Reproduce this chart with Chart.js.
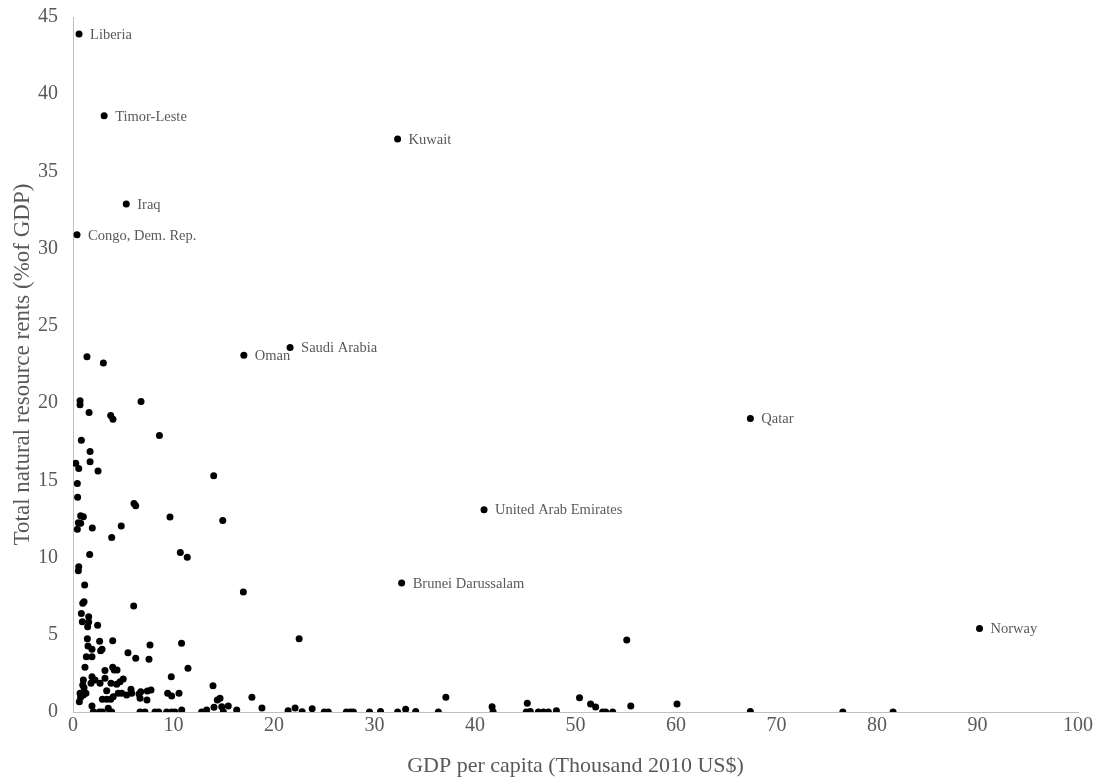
<!DOCTYPE html>
<html>
<head>
<meta charset="utf-8">
<script src="https://cdn.jsdelivr.net/npm/chart.js@4/dist/chart.umd.min.js"></script>
<style>
html,body{margin:0;padding:0;background:#fff;}
#wrap{width:1100px;height:779px;}
</style>
</head>
<body>
<div id="wrap"><canvas id="c" width="1100" height="779"></canvas></div>
<script>
// Labelled countries
const labelNames = ["Liberia","Timor-Leste","Kuwait","Iraq","Congo, Dem. Rep.","Saudi Arabia","Oman","Qatar","United Arab Emirates","Brunei Darussalam","Norway"];
const labelGdp   = [0.6, 3.1, 32.3, 5.3, 0.4, 21.6, 17.0, 67.4, 40.9, 32.7, 90.2];
const labelRents = [43.9, 38.6, 37.1, 32.9, 30.9, 23.6, 23.1, 19.0, 13.1, 8.35, 5.4];

// Other countries
const otherGdp = [1.39,3.02,0.7,0.7,1.6,6.77,3.75,3.98,8.6,0.83,1.7,1.7,0.27,0.57,2.49,14.0,0.43,0.46,6.07,6.24,
0.76,1.03,0.53,0.76,0.43,1.92,4.8,9.65,14.9,3.85,1.66,10.68,11.37,0.57,0.53,1.16,0.97,1.1,6.04,0.83,
1.56,0.93,1.56,1.46,2.45,1.43,2.65,3.95,1.49,1.89,7.66,10.8,2.75,2.89,1.33,1.89,5.47,6.24,7.56,1.19,
3.95,4.1,4.38,3.18,11.44,1.03,0.97,1.1,1.89,2.19,1.79,2.69,3.18,3.78,4.35,4.68,5.0,9.78,13.93,0.7,
0.76,0.63,1.03,1.29,3.35,2.92,3.35,3.75,4.0,4.5,4.85,5.34,5.77,5.84,6.57,6.67,6.74,7.4,7.76,7.36,
9.42,9.82,10.55,1.89,2.02,2.62,2.92,3.51,3.68,3.85,6.67,7.16,8.16,8.53,9.32,9.82,10.15,10.82,12.8,13.3,
14.03,14.36,14.63,14.8,14.96,15.45,16.29,16.95,22.5,17.8,18.8,21.4,22.1,22.8,23.8,25.0,25.4,27.2,27.6,27.9,
29.5,30.6,32.3,33.1,34.1,36.35,37.1,41.7,41.8,45.2,45.1,45.5,46.3,46.8,47.3,48.1,50.4,51.5,52.0,52.7,
53.0,53.7,55.1,55.5,60.1,67.4,76.6,81.6];
const otherRents = [23.0,22.6,20.15,19.9,19.4,20.1,19.2,18.95,17.9,17.6,16.86,16.2,16.1,15.76,15.6,15.3,14.8,13.9,13.5,13.36,
12.7,12.65,12.26,12.22,11.83,11.92,12.05,12.63,12.4,11.3,10.2,10.32,10.02,9.41,9.15,8.22,7.04,7.14,6.87,6.37,
6.17,5.85,5.83,5.52,5.61,4.75,4.58,4.62,4.27,4.06,4.34,4.45,3.97,4.06,3.58,3.58,3.84,3.48,3.41,2.9,
2.9,2.72,2.72,2.68,2.83,2.07,1.75,1.57,2.29,2.07,1.86,1.86,2.18,1.86,1.79,1.96,2.14,2.29,1.7,1.21,
0.95,0.67,1.1,1.21,1.38,0.82,0.82,0.82,0.99,1.21,1.21,1.1,1.47,1.21,1.17,0.89,1.31,1.36,1.42,0.78,
1.21,1.04,1.21,0.39,0.02,0,0,0.24,0,0,0,0,0,0,0,0,0,0.13,0,0.13,
0.3,0.78,0.89,0.34,0,0.39,0.13,7.77,4.75,0.95,0.26,0.08,0.26,0.02,0.21,0,0,0,0,0,
0,0.04,0,0.17,0.04,0,0.95,0.34,0.02,0.56,0,0.04,0,0,0,0.08,0.93,0.52,0.32,0,
0,0,4.66,0.39,0.52,0.04,0,0];

const xTicks = [0,10,20,30,40,50,60,70,80,90,100];
const yTicks = [0,5,10,15,20,25,30,35,40,45];

const FONT = "'Liberation Serif', 'Times New Roman', serif";
const TXT = '#595959';
const AXIS = '#bfbfbf';

const pointLabels = {
  id: 'pointLabels',
  afterDatasetsDraw(chart) {
    const ctx = chart.ctx;
    const meta = chart.getDatasetMeta(0);
    ctx.save();
    ctx.font = '14.5px ' + FONT;
    ctx.fillStyle = TXT;
    ctx.textAlign = 'left';
    ctx.textBaseline = 'middle';
    meta.data.forEach((pt, i) => {
      ctx.fillText(labelNames[i], pt.x + 11, pt.y + 1);
    });
    ctx.restore();
  }
};

new Chart(document.getElementById('c'), {
  type: 'scatter',
  data: {
    datasets: [
      { data: labelGdp.map((x, i) => ({x, y: labelRents[i]})), backgroundColor: '#000', borderColor: '#000', pointRadius: 3.5, borderWidth: 0 },
      { data: otherGdp.map((x, i) => ({x, y: otherRents[i]})), backgroundColor: '#000', borderColor: '#000', pointRadius: 3.5, borderWidth: 0 }
    ]
  },
  options: {
    responsive: false,
    animation: false,
    devicePixelRatio: 1,
    layout: { padding: { top: 17, right: 22, left: 0, bottom: 0 } },
    plugins: { legend: { display: false }, tooltip: { enabled: false } },
    scales: {
      x: {
        type: 'linear', min: 0, max: 100,
        afterBuildTicks: s => { s.ticks = xTicks.map(v => ({value: v})); },
        afterFit: s => { s.height = 67; s.paddingLeft = 0; s.paddingRight = 0; },
        grid: { display: true, drawOnChartArea: false, drawTicks: false },
        border: { display: true, color: AXIS, width: 1 },
        ticks: { color: TXT, font: { family: FONT, size: 20 }, padding: 2, maxRotation: 0 },
        title: { display: true, text: 'GDP per capita (Thousand 2010 US$)', color: TXT, font: { family: FONT, size: 22 }, padding: { top: 0, bottom: 0 } }
      },
      y: {
        type: 'linear', min: 0, max: 45,
        afterBuildTicks: s => { s.ticks = yTicks.map(v => ({value: v})); },
        afterFit: s => { s.width = 73; s.paddingTop = 0; s.paddingBottom = 0; },
        grid: { display: true, drawOnChartArea: false, drawTicks: false },
        border: { display: true, color: AXIS, width: 1 },
        ticks: { color: TXT, font: { family: FONT, size: 20 }, padding: 15 },
        title: { display: true, text: 'Total natural resource rents (%of GDP)', color: TXT, font: { family: FONT, size: 23 }, padding: { top: 9, bottom: 0 } }
      }
    }
  },
  plugins: [pointLabels]
});
</script>
</body>
</html>
